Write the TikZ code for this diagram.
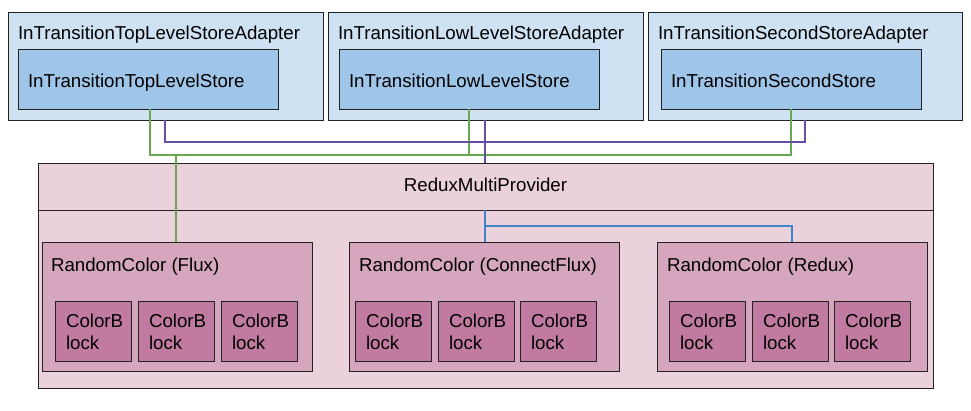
\documentclass[tikz,border=0pt]{standalone}
\usepackage{fontspec}
\setmainfont{Liberation Sans}
\definecolor{adapterc}{HTML}{CFE2F3}
\definecolor{storec}{HTML}{9FC5E8}
\definecolor{rmpc}{HTML}{EAD1DC}
\definecolor{randc}{HTML}{D5A6BD}
\definecolor{blockc}{HTML}{C27BA0}
\definecolor{edgec}{HTML}{222222}
\definecolor{greenl}{HTML}{6AA84F}
\definecolor{purplel}{HTML}{674EA7}
\definecolor{bluel}{HTML}{3D85C6}
\begin{document}
\begin{tikzpicture}[x=1pt,y=-1pt,
  box/.style={draw=edgec, line width=0.9pt, inner sep=0pt, outer sep=0pt, anchor=north west},
  adapter/.style={box, fill=adapterc, minimum height=108pt},
  store/.style={box, fill=storec, minimum width=260pt, minimum height=60pt},
  rmp/.style={box, fill=rmpc, minimum width=895pt},
  rand/.style={box, fill=randc, minimum width=270pt, minimum height=129pt},
  block/.style={box, fill=blockc, minimum width=76pt, minimum height=60pt},
  lbl/.style={inner sep=0pt, outer sep=0pt, anchor=base west, font=\fontsize{18.7}{22}\selectfont},
  blbl/.style={inner sep=0pt, outer sep=0pt, anchor=north west, align=left, font=\fontsize{18.7}{22}\selectfont},
  conn/.style={line width=2pt}
]
\useasboundingbox (0,0) rectangle (971,410);
\fill[white] (0,0) rectangle (971,410);

% adapters
\node[adapter, minimum width=315pt] (a1) at (8,12) {};
\node[adapter, minimum width=315pt] (a2) at (328,12) {};
\node[adapter, minimum width=314pt] (a3) at (648,12) {};
\node[lbl] (a1t) at (18,39) {InTransitionTopLevelStoreAdapter};
\node[lbl] (a2t) at (338,39) {InTransitionLowLevelStoreAdapter};
\node[lbl] (a3t) at (658,39) {InTransitionSecondStoreAdapter};

% stores
\node[store] (s1) at (18,49) {};
\node[store] (s2) at (339,49) {};
\node[store] (s3) at (661,49) {};
\node[lbl] (s1t) at (28,87) {InTransitionTopLevelStore};
\node[lbl] (s2t) at (349,87) {InTransitionLowLevelStore};
\node[lbl] (s3t) at (671,87) {InTransitionSecondStore};

% ReduxMultiProvider
\node[rmp, minimum height=47pt] (rh) at (38,163) {};
\node[rmp, minimum height=178pt] (rb) at (38,210) {};
\node[lbl, anchor=base] (rht) at (485.5,191) {ReduxMultiProvider};

% RandomColor boxes
\node[rand] (rf) at (42,242) {};
\node[rand] (rc) at (349,242) {};
\node[rand] (rr) at (657,242) {};
\node[lbl] (rft) at (51,271) {RandomColor (Flux)};
\node[lbl] (rct) at (359,271) {RandomColor (ConnectFlux)};
\node[lbl] (rrt) at (667,271) {RandomColor (Redux)};

% ColorBlocks
\foreach \n/\x in {f1/55,f2/138,f3/221,c1/355,c2/438,c3/520,r1/669,r2/752,r3/834}{
  \node[block] (b\n) at (\x,301) {};
  \node[blbl] (b\n t) at (\x+11,313.5) {ColorB\\lock};
}

% named connector points (pixel-aligned)
\coordinate (g1) at ([xshift=2pt]s1.south);
\coordinate (gf) at ([xshift=-1pt]rf.north);
\coordinate (p1) at ([xshift=-0.5pt]a1.south);
\coordinate (p2) at ([xshift=-0.5pt]a2.south);
\coordinate (pm) at ([xshift=-0.5pt]rh.north);
\coordinate (bm) at ([xshift=-0.5pt]rh.south);

% connectors: stores -> RandomColor (Flux)
\draw[conn, greenl] (g1) -- ++(0,46) -| (gf);
\draw[conn, greenl] (s2.south) -- ++(0,46) -| (gf);
\draw[conn, greenl] (s3.south) -- ++(0,46) -| (gf);
% adapters -> ReduxMultiProvider
\draw[conn, purplel] (p1) -- ++(0,22) -| (pm);
\draw[conn, purplel] (a3.south) -- ++(0,22) -| (pm);
\draw[conn, purplel] (p2) -- (pm);
% ReduxMultiProvider -> ConnectFlux, Redux
\draw[conn, bluel] (bm) -- (bm |- rc.north);
\draw[conn, bluel] (bm) -- ++(0,16) -| (rr.north);
\end{tikzpicture}
\end{document}
